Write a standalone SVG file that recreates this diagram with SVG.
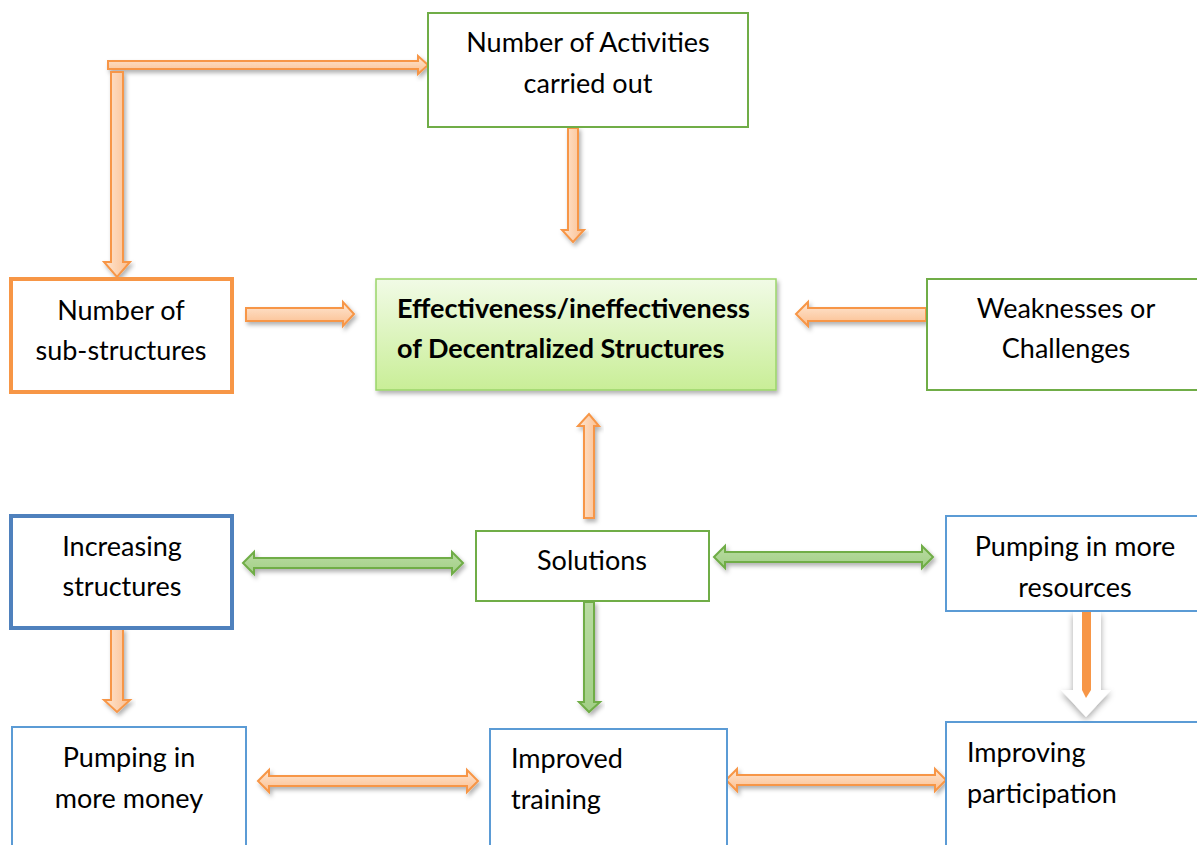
<svg xmlns="http://www.w3.org/2000/svg" width="1197" height="845" viewBox="0 0 1197 845">
<defs>
<linearGradient id="og" x1="0" y1="0" x2="0" y2="1"><stop offset="0" stop-color="#FEE7D4"/><stop offset="1" stop-color="#FBBE8E"/></linearGradient>
<linearGradient id="ogv" x1="0" y1="0" x2="1" y2="0"><stop offset="0" stop-color="#FEE7D4"/><stop offset="1" stop-color="#FBBE8E"/></linearGradient>
<linearGradient id="gg" x1="0" y1="0" x2="0" y2="1"><stop offset="0" stop-color="#B9DBA2"/><stop offset="1" stop-color="#A2CF86"/></linearGradient>
<linearGradient id="cg" x1="0" y1="0" x2="0" y2="1"><stop offset="0" stop-color="#F1FBE6"/><stop offset="1" stop-color="#C9EE97"/></linearGradient>
<filter id="sh" x="-20%" y="-20%" width="140%" height="160%"><feDropShadow dx="2" dy="3" stdDeviation="2" flood-color="#000" flood-opacity="0.3"/></filter>
<filter id="sh2" x="-30%" y="-20%" width="160%" height="150%"><feDropShadow dx="0" dy="3" stdDeviation="3" flood-color="#000" flood-opacity="0.35"/></filter>
</defs>
<style>
.t{font-family:Lato,"Liberation Sans",sans-serif;font-size:27px;fill:#000}
.c{text-anchor:middle}
.b{font-weight:bold;font-size:27px}
.gb{fill:#fff;stroke:#70AD47;stroke-width:2}
.bb{fill:#fff;stroke:#5B9BD5;stroke-width:2}
.oa{fill:url(#og);stroke:#F79646;stroke-width:2;stroke-linejoin:miter}
.oav{fill:url(#ogv);stroke:#F79646;stroke-width:2}
.ga{fill:url(#gg);stroke:#70AD47;stroke-width:2}
</style>
<rect width="1197" height="845" fill="#fff"/>

<g id="connectors">
<path class="oa" filter="url(#sh)" d="M108,61 L418,61 L418,56 L428,65 L418,74 L418,69 L108,69 Z"/>
<path class="oav" filter="url(#sh)" d="M111,72 L123,72 L123,262 L130,262 L117,277 L104,262 L111,262 Z"/>
<path class="oav" filter="url(#sh)" d="M568,128 L578,128 L578,230 L584,230 L573,242 L562,230 L568,230 Z"/>
<path class="oa" filter="url(#sh)" d="M246,308 L343,308 L343,302 L354,314 L343,326 L343,321 L246,321 Z"/>
<path class="oa" filter="url(#sh)" d="M926,308 L808,308 L808,302 L796,314 L808,326 L808,321 L926,321 Z"/>
<path class="oav" filter="url(#sh)" d="M584,518 L594,518 L594,426 L599,426 L589,414 L578,426 L584,426 Z"/>
<path class="ga" filter="url(#sh)" d="M243,563 L254,552 L254,558 L452,558 L452,552 L463,563 L452,574 L452,568 L254,568 L254,574 Z"/>
<path class="ga" filter="url(#sh)" d="M714,557 L725,546 L725,552 L922,552 L922,546 L933,557 L922,568 L922,562 L725,562 L725,568 Z"/>
<path class="ga" filter="url(#sh)" d="M584,602 L594,602 L594,702 L600,702 L589,712 L579,702 L584,702 Z"/>
<path class="oav" filter="url(#sh)" d="M111,629 L123,629 L123,700 L130,700 L117,712 L104,700 L111,700 Z"/>
<g filter="url(#sh2)">
<path fill="#fff" d="M1073,612 L1101,612 L1101,690 L1111,690 L1086,717 L1061,690 L1073,690 Z"/>
</g>
<path fill="#F79646" d="M1082,612 L1091,612 L1091,690 L1086,698 L1082,690 Z"/>
<path class="oa" filter="url(#sh)" d="M258,781 L269,770 L269,776 L467,776 L467,770 L478,781 L467,792 L467,786 L269,786 L269,792 Z"/>
<path class="oa" filter="url(#sh)" d="M726,780 L737,769 L737,775 L935,775 L935,769 L946,780 L935,791 L935,785 L737,785 L737,791 Z"/>
</g>

<g id="activities">
<rect class="gb" x="428" y="13" width="320" height="114"/>
<text class="t c" x="588" y="52">Number of Activities</text>
<text class="t c" x="588" y="93">carried out</text>
</g>

<g id="substructures">
<rect x="11" y="279" width="221" height="113" fill="#fff" stroke="#F79646" stroke-width="4"/>
<text class="t c" x="121" y="320">Number of</text>
<text class="t c" x="121" y="360">sub-structures</text>
</g>

<g id="center">
<rect x="376" y="279" width="400" height="111" fill="url(#cg)" stroke="#9BD56A" stroke-width="1.5" filter="url(#sh)"/>
<text class="t b" x="397" y="318">Effectiveness/ineffectiveness</text>
<text class="t b" x="397" y="358">of Decentralized Structures</text>
</g>

<g id="weaknesses">
<rect class="gb" x="927" y="279" width="280" height="111"/>
<text class="t c" x="1066" y="318">Weaknesses or</text>
<text class="t c" x="1066" y="358">Challenges</text>
</g>

<g id="increasing">
<rect x="11" y="516" width="221" height="112" fill="#fff" stroke="#4F81BD" stroke-width="4"/>
<text class="t c" x="122" y="556">Increasing</text>
<text class="t c" x="122" y="596">structures</text>
</g>

<g id="solutions">
<rect class="gb" x="476" y="531" width="233" height="70"/>
<text class="t c" x="592" y="570">Solutions</text>
</g>

<g id="resources">
<rect class="bb" x="946" y="516" width="260" height="95"/>
<text class="t c" x="1075" y="556">Pumping in more</text>
<text class="t c" x="1075" y="597">resources</text>
</g>

<g id="money">
<rect class="bb" x="12" y="727" width="234" height="130"/>
<text class="t c" x="129" y="767">Pumping in</text>
<text class="t c" x="129" y="808">more money</text>
</g>

<g id="training">
<rect class="bb" x="490" y="729" width="237" height="130"/>
<text class="t" x="511" y="768">Improved</text>
<text class="t" x="511" y="809">training</text>
</g>

<g id="participation">
<rect class="bb" x="946" y="722" width="260" height="135"/>
<text class="t" x="967" y="762">Improving</text>
<text class="t" x="967" y="803">participation</text>
</g>
</svg>
